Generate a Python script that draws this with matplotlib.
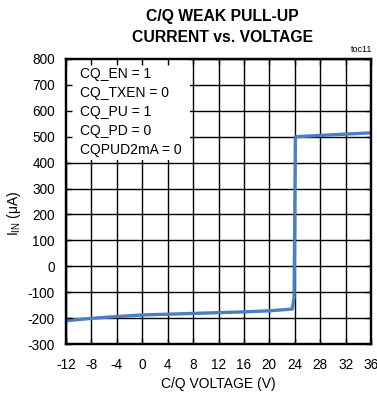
import matplotlib
matplotlib.use("Agg")
import matplotlib.pyplot as plt
from matplotlib.patches import Rectangle

plt.rcParams['font.family'] = ['Liberation Sans', 'DejaVu Sans']
plt.rcParams['mathtext.fontset'] = 'custom'
plt.rcParams['mathtext.rm'] = 'Liberation Sans'
plt.rcParams['axes.unicode_minus'] = False

# C/Q pin pull-up current sweep
voltage = [-12, -8, -4, 0, 4, 8, 12, 16, 20, 23.6, 23.9, 24.1, 28, 32, 36]
current = [-210, -201, -194, -188, -185, -182, -179, -176, -172, -165, -120, 500, 505, 510, 515]

xticks = list(range(-12, 37, 4))
yticks = list(range(-300, 801, 100))
settings = ["CQ_EN = 1", "CQ_TXEN = 0", "CQ_PU = 1", "CQ_PD = 0", "CQPUD2mA = 0"]

fig = plt.figure(figsize=(3.77, 3.96), dpi=100)
pos = [66 / 377, 1 - 344 / 396, 305 / 377, 285 / 396]
ax = fig.add_axes(pos)
ax.set_xlim(-12, 36)
ax.set_ylim(-300, 800)
ax.set_xticks(xticks)
ax.set_yticks(yticks)
ax.set_axisbelow(True)
ax.grid(True, color='black', linewidth=1.0)
ax.tick_params(length=0, labelsize=9.8, pad=8)
ax.tick_params(axis='x', pad=10)
for s in ax.spines.values():
    s.set_linewidth(1.6)

# white panel behind the settings text
ax.add_patch(Rectangle((0, 0.645), 0.405, 0.355, transform=ax.transAxes,
                       facecolor='white', edgecolor='none', zorder=1))
ax.plot(voltage, current, color='#4a7fc1', linewidth=2.4, zorder=3,
        solid_joinstyle='round')
ax.text(0.045, 0.972, "\n".join(settings), transform=ax.transAxes,
        fontsize=10, va='top', ha='left', linespacing=1.45, zorder=4)

# overlay axes carrying the inward tick marks
ov = fig.add_axes(pos, sharex=ax, sharey=ax)
ov.patch.set_visible(False)
ov.tick_params(direction='in', length=4.5, width=1.0, top=True, right=True,
               labelleft=False, labelbottom=False)
for s in ov.spines.values():
    s.set_linewidth(1.6)

fig.text(222 / 377, 1 - 16 / 396, "C/Q WEAK PULL-UP", ha='center', va='center',
         fontsize=11.3, fontweight='bold')
fig.text(222 / 377, 1 - 38 / 396, "CURRENT vs. VOLTAGE", ha='center', va='center',
         fontsize=11.3, fontweight='bold')
fig.text(372 / 377, 1 - 50 / 396, "toc11", ha='right', va='center', fontsize=6.5)
fig.text(218 / 377, 1 - 384 / 396, "C/Q VOLTAGE (V)", ha='center', va='center',
         fontsize=10)
fig.text(14 / 377, 1 - 213 / 396, r"I$_{\mathregular{IN}}$ (μA)", ha='center',
         va='center', rotation=90, fontsize=10)

fig.savefig("out.png", dpi=100)
